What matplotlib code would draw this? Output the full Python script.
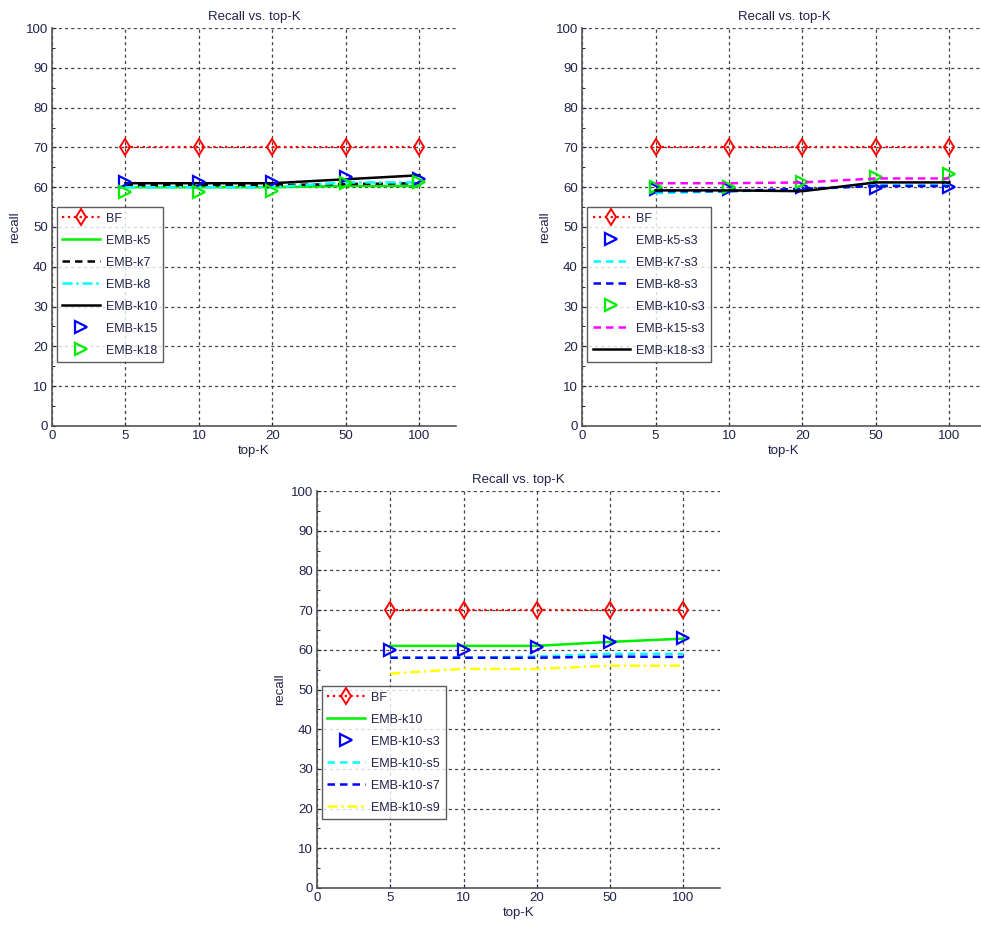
import matplotlib.pyplot as plt
from matplotlib.ticker import MultipleLocator

plt.rcParams['font.family'] = ['Liberation Sans', 'DejaVu Sans']

topk_labels = ['0', '5', '10', '20', '50', '100']
topk_pos = [1, 2, 3, 4, 5]

# panel 1
p1_names = ['BF', 'EMB-k5', 'EMB-k7', 'EMB-k8', 'EMB-k10', 'EMB-k15', 'EMB-k18']
p1_bf = [70, 70, 70, 70, 70]
p1_k5 = [60, 60, 60, 60.3, 60.3]
p1_k7 = [60.5, 60.5, 60.5, 60.8, 61]
p1_k8 = [60, 60, 60, 61.2, 61.2]
p1_k10 = [61, 61, 61, 62, 63]
p1_k15 = [61.4, 61.3, 61.3, 62.5, 62]
p1_k18 = [58.9, 58.9, 59, 61, 61.4]

# panel 2
p2_names = ['BF', 'EMB-k5-s3', 'EMB-k7-s3', 'EMB-k8-s3', 'EMB-k10-s3', 'EMB-k15-s3', 'EMB-k18-s3']
p2_bf = [70, 70, 70, 70, 70]
p2_k5 = [59.5, 59.5, 60, 59.8, 60]
p2_k7 = [58.5, 59, 59.3, 60.5, 60.5]
p2_k8 = [59, 59, 59.6, 60.3, 60.3]
p2_k10 = [60, 60, 61.3, 62.5, 63.3]
p2_k15 = [61, 61, 61.2, 62.2, 62.2]
p2_k18 = [59.2, 59.2, 59, 61.2, 61.2]

# panel 3
p3_names = ['BF', 'EMB-k10', 'EMB-k10-s3', 'EMB-k10-s5', 'EMB-k10-s7', 'EMB-k10-s9']
p3_bf = [70, 70, 70, 70, 70]
p3_k10 = [61, 61, 61, 62, 62.8]
p3_s3 = [60, 60, 60.7, 62, 63]
p3_s5 = [58, 58, 58.3, 59, 59]
p3_s7 = [58, 58, 58, 58.3, 58.2]
p3_s9 = [54, 55.2, 55.2, 56, 56]

txt = '#22224a'


def bf_line(ax, y, name):
    ax.plot(topk_pos, y, color='red', linestyle=':', linewidth=1.6, marker='d',
            markersize=8, markerfacecolor='none', markeredgecolor='red',
            markeredgewidth=1.4, label=name)


def tri(ax, y, color, name):
    ax.plot(topk_pos, y, linestyle='none', marker='>', markersize=8,
            markerfacecolor='none', markeredgecolor=color, markeredgewidth=1.6,
            label=name)


def ln(ax, y, color, style, name):
    ax.plot(topk_pos, y, color=color, linestyle=style, linewidth=1.8, label=name)


def setup(ax, anchor_y):
    ax.set_xlim(0, 5.5)
    ax.set_ylim(0, 100)
    ax.set_xticks(range(6))
    ax.set_xticklabels(topk_labels)
    ax.set_yticks(range(0, 101, 10))
    ax.yaxis.set_minor_locator(MultipleLocator(5))
    ax.tick_params(direction='in', labelsize=9.5, colors=txt, length=3, pad=3)
    ax.tick_params(which='minor', direction='in', length=2)
    for side in ('top', 'right'):
        ax.spines[side].set_visible(False)
    for side in ('left', 'bottom'):
        ax.spines[side].set_color('#555555')
        ax.spines[side].set_linewidth(1.2)
    ax.grid(True, color='#444444', linestyle=(0, (2.5, 2.5)), linewidth=0.9)
    ax.set_axisbelow(True)
    ax.set_title('Recall vs. top-K', fontsize=9.5, color=txt, pad=6)
    ax.set_xlabel('top-K', fontsize=9.5, color=txt, labelpad=2)
    ax.set_ylabel('recall', fontsize=9.5, color=txt, labelpad=3)
    leg = ax.legend(loc='upper left', bbox_to_anchor=(0.012, anchor_y), fontsize=9,
                    frameon=True, fancybox=False, edgecolor='#333333',
                    handlelength=3.0, labelspacing=0.8, borderpad=0.45,
                    handletextpad=0.5, borderaxespad=0)
    leg.get_frame().set_linewidth(1.0)
    for t in leg.get_texts():
        t.set_color(txt)


fig = plt.figure(figsize=(9.81, 9.36), dpi=100)

ax1 = fig.add_axes([0.053, 0.545, 0.412, 0.425])
bf_line(ax1, p1_bf, p1_names[0])
ln(ax1, p1_k5, '#00ee00', '-', p1_names[1])
ln(ax1, p1_k7, 'black', (0, (3, 2)), p1_names[2])
ln(ax1, p1_k8, 'cyan', (0, (4, 1.5, 1, 1.5)), p1_names[3])
ln(ax1, p1_k10, 'black', '-', p1_names[4])
tri(ax1, p1_k15, 'blue', p1_names[5])
tri(ax1, p1_k18, '#00ee00', p1_names[6])
setup(ax1, 0.55)

ax2 = fig.add_axes([0.5933, 0.545, 0.412, 0.425])
bf_line(ax2, p2_bf, p2_names[0])
tri(ax2, p2_k5, 'blue', p2_names[1])
ln(ax2, p2_k7, 'cyan', (0, (3, 2)), p2_names[2])
ln(ax2, p2_k8, 'blue', (0, (3, 2)), p2_names[3])
tri(ax2, p2_k10, '#00ee00', p2_names[4])
ln(ax2, p2_k15, 'magenta', (0, (3, 2)), p2_names[5])
ln(ax2, p2_k18, 'black', '-', p2_names[6])
setup(ax2, 0.55)

ax3 = fig.add_axes([0.3231, 0.0513, 0.411, 0.4241])
bf_line(ax3, p3_bf, p3_names[0])
ln(ax3, p3_k10, '#00ee00', '-', p3_names[1])
tri(ax3, p3_s3, 'blue', p3_names[2])
ln(ax3, p3_s5, 'cyan', (0, (3, 2)), p3_names[3])
ln(ax3, p3_s7, 'blue', (0, (3, 2)), p3_names[4])
ln(ax3, p3_s9, 'yellow', (0, (4, 1.5, 1, 1.5)), p3_names[5])
setup(ax3, 0.509)

fig.savefig('out.png', dpi=100)
